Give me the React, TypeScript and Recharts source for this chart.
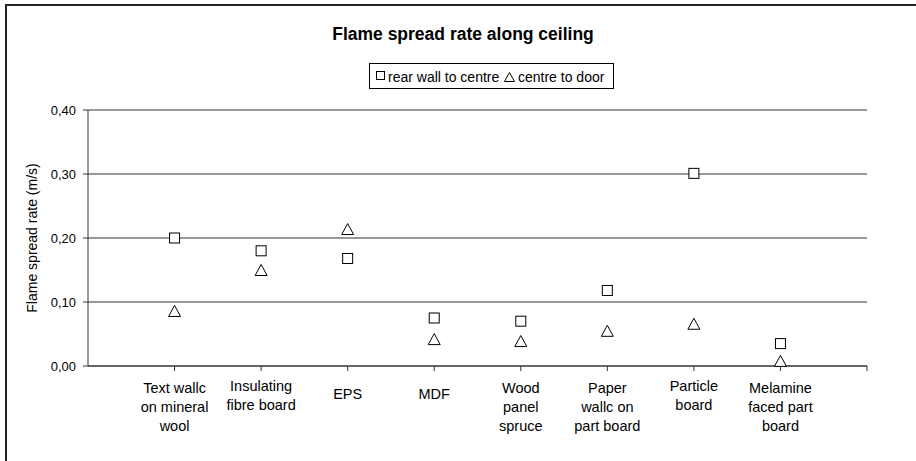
import React from 'react';
import { ScatterChart, Scatter, XAxis, YAxis, CartesianGrid } from 'recharts';

const categories: string[] = [
  'Text wallc\non mineral\nwool',
  'Insulating\nfibre board',
  'EPS',
  'MDF',
  'Wood\npanel\nspruce',
  'Paper\nwallc on\npart board',
  'Particle\nboard',
  'Melamine\nfaced part\nboard',
];
const rearWallToCentre: number[] = [0.2, 0.18, 0.168, 0.075, 0.07, 0.118, 0.301, 0.035];
const centreToDoor: number[] = [0.086, 0.15, 0.214, 0.042, 0.039, 0.055, 0.066, 0.008];
const yTicks: number[] = [0, 0.1, 0.2, 0.3, 0.4];
const xTicks: number[] = [1, 2, 3, 4, 5, 6, 7, 8, 9];

const rearData = categories.map((c, i) => ({ x: i + 1, y: rearWallToCentre[i], name: c }));
const doorData = categories.map((c, i) => ({ x: i + 1, y: centreToDoor[i], name: c }));

const FONT = '"Liberation Sans", Arial, sans-serif';

const SquareShape = (props: any) => {
  const { cx, cy } = props;
  return <rect x={cx - 5} y={cy - 5} width={10} height={10} fill="#fff" stroke="#000" strokeWidth={1} />;
};
const TriangleShape = (props: any) => {
  const { cx, cy } = props;
  return (
    <polygon
      points={`${cx},${cy - 5.5} ${cx - 6},${cy + 5.5} ${cx + 6},${cy + 5.5}`}
      fill="#fff"
      stroke="#000"
      strokeWidth={1}
    />
  );
};

const XTick = (props: any) => {
  const { x, payload } = props;
  const idx = payload.value - 1;
  if (idx < 0 || idx >= categories.length) return null;
  const lines = categories[idx].split('\n');
  const firstBaseline = lines.length === 1 ? 399 : lines.length === 2 ? 391 : 393;
  return (
    <text x={x} textAnchor="middle" fontFamily={FONT} fontSize={14.5} fill="#000">
      {lines.map((l, i) => (
        <tspan key={i} x={x} y={firstBaseline + i * 19}>
          {l}
        </tspan>
      ))}
    </text>
  );
};

const yFmt = (v: number) => v.toFixed(2).replace('.', ',');

export default function App() {
  return (
    <div style={{ position: 'absolute', left: 0, top: 0, width: 916, height: 461, overflow: 'hidden', background: '#fff' }}>
      <div
        style={{
          position: 'absolute',
          left: 5,
          top: 4,
          width: 1000,
          height: 1000,
          border: '2px solid #222',
          boxSizing: 'border-box',
        }}
      />
      <svg width={916} height={100} style={{ position: 'absolute', left: 0, top: 0 }}>
        <text x={463} y={40} textAnchor="middle" fontFamily={FONT} fontWeight="bold" fontSize={17.5} fill="#000">
          Flame spread rate along ceiling
        </text>
        <rect x={369.5} y={63.5} width={244} height={25} fill="#fff" stroke="#000" strokeWidth={1} />
        <rect x={376.5} y={71.5} width={8} height={8} fill="#fff" stroke="#000" strokeWidth={1} />
        <text x={388} y={82} fontFamily={FONT} fontSize={14} fill="#000">
          rear wall to centre
        </text>
        <polygon points="509.5,72.5 504.5,81.5 514.5,81.5" fill="#fff" stroke="#000" strokeWidth={1} />
        <text x={518} y={82} fontFamily={FONT} fontSize={14} fill="#000">
          centre to door
        </text>
      </svg>
      <div style={{ position: 'absolute', left: 0, top: 0 }}>
        <ScatterChart width={916} height={461} margin={{ top: 110, right: 49, bottom: 0, left: 28 }}>
          <CartesianGrid vertical={false} horizontal={true} stroke="#333" fill="none" />
          <XAxis
            type="number"
            dataKey="x"
            domain={[0, 9]}
            ticks={xTicks}
            interval={0}
            height={95}
            tick={<XTick />}
            tickSize={5}
            stroke="#333"
            allowDecimals={false}
          />
          <YAxis
            type="number"
            dataKey="y"
            domain={[0, 0.4]}
            ticks={yTicks}
            width={60}
            tickSize={5}
            tickMargin={7}
            tickFormatter={yFmt}
            stroke="#333"
            tick={{ fill: '#000', fontFamily: FONT, fontSize: 13 }}
            label={(p: any) => {
              const vb = p.viewBox;
              const cx = 32;
              const cy = vb.y + vb.height / 2;
              return (
                <text
                  x={cx}
                  y={cy}
                  transform={`rotate(-90 ${cx} ${cy})`}
                  textAnchor="middle"
                  dominantBaseline="central"
                  fontFamily={FONT}
                  fontSize={14}
                  fill="#000"
                >
                  Flame spread rate (m/s)
                </text>
              );
            }}
          />
          <Scatter data={rearData} shape={<SquareShape />} isAnimationActive={false} />
          <Scatter data={doorData} shape={<TriangleShape />} isAnimationActive={false} />
        </ScatterChart>
      </div>
    </div>
  );
}
